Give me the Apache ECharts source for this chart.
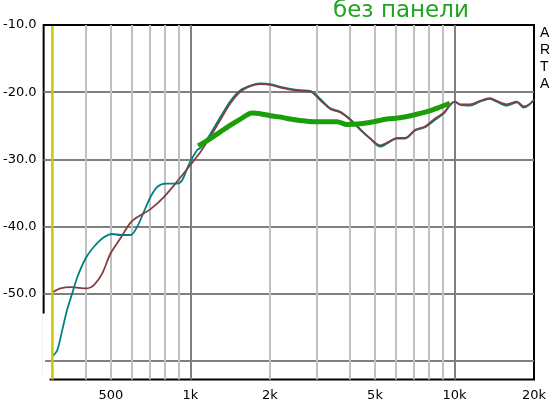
<!DOCTYPE html>
<html><head><meta charset="utf-8">
<script src="https://cdn.jsdelivr.net/npm/echarts@6/dist/echarts.min.js"></script>
<style>html,body{margin:0;padding:0;background:#fff}#c{width:555px;height:410px}</style>
</head><body><div id="c"></div>
<script>
// Axis ticks / labels
const xLabelValues = [500, 1000, 2000, 5000, 10000, 20000];
const xMinorGrid = [400, 500, 600, 700, 800, 900, 2000, 3000, 4000, 5000, 6000, 7000, 8000, 9000];
const xMajorGrid = [1000, 10000];
const yGridValues = [-60, -50, -40, -30, -20];
const yLabelValues = [-50, -40, -30, -20, -10];
const cursorFreq = 300;

// Teal curve
const freqTeal = [300,313,327,341,357,373,401,431,470,506,544,593,629,666,706,748,804,890,930,985,1060,1091,1190,1298,1417,1546,1686,1840,2007,2190,2389,2607,2844,3104,3385,3694,4028,4395,4796,5232,5624,6050,6502,7095,7742,8447,9090,9600,10000,10530,11450,12490,13630,14450,15780,17220,18250,19000,20000];
const dbTeal   = [-59.3,-58.4,-55.4,-52.4,-49.9,-47.5,-44.7,-43.0,-41.6,-41.1,-41.25,-41.25,-40.0,-37.8,-35.6,-34.1,-33.6,-33.6,-33.1,-30.8,-28.6,-28.3,-26.2,-23.7,-21.3,-19.7,-19.0,-18.7,-18.8,-19.2,-19.5,-19.7,-19.8,-21.0,-22.4,-22.9,-24.0,-25.5,-26.9,-28.1,-27.5,-26.9,-26.9,-25.7,-25.2,-24.1,-23.2,-22.0,-21.4,-21.9,-22.0,-21.4,-21.0,-21.4,-22.0,-21.5,-22.3,-22.0,-21.1];

// Brown curve
const freqBrown = [300,322,352,406,431,463,498,544,593,647,706,793,890,1000,1091,1190,1298,1417,1546,1686,1840,2007,2190,2389,2607,2844,3104,3385,3694,4028,4395,4796,5232,5624,6050,6502,7095,7742,8447,9090,9600,10000,10530,11450,12490,13630,14450,15780,17220,18250,19000,19900];
const dbBrown   = [-49.8,-49.2,-49.0,-49.2,-48.7,-47.0,-44.0,-41.7,-39.4,-38.3,-37.4,-35.6,-33.3,-30.8,-28.9,-26.6,-24.1,-21.65,-19.9,-19.1,-18.8,-18.9,-19.3,-19.6,-19.8,-19.9,-21.2,-22.5,-23.0,-24.1,-25.6,-26.9,-27.9,-27.4,-26.8,-26.8,-25.6,-25.1,-23.9,-23.1,-21.9,-21.4,-21.8,-21.8,-21.3,-20.9,-21.3,-21.8,-21.4,-22.1,-21.9,-21.3];

// Thick green curve (без панели)
const freqGreen = [1070,1190,1298,1417,1546,1712,1840,2007,2190,2389,2607,2930,3590,3920,4395,4940,5545,6230,7000,7860,8830,9600];
const dbGreen   = [-28.0,-26.9,-25.9,-24.9,-24.0,-23.1,-23.2,-23.5,-23.7,-24.0,-24.2,-24.4,-24.4,-24.8,-24.7,-24.4,-24.0,-23.8,-23.4,-22.9,-22.2,-21.65];

const X_MIN = 278, X_MAX = 20000, Y_MIN = -62.75, Y_MAX = -10;
const LEFT_FRAME_END = -52.86, BOTTOM_FRAME_START = 293;
const pairs = (f, d) => f.map((v, i) => [v, d[i]]);

const chart = echarts.init(document.getElementById('c'));
const baseX = {type: 'log', logBase: 10, min: X_MIN, max: X_MAX, gridIndex: 0};
chart.setOption({
  animation: false,
  title: [
    {text: 'без панели', left: 333, top: 0, padding: 0,
     textStyle: {color: '#22a322', fontSize: 23, fontWeight: 'normal', fontFamily: 'DejaVu Sans'}},
    {text: 'A\nR\nT\nA', left: 540, top: 25, padding: 0,
     textStyle: {color: '#000', fontSize: 14, lineHeight: 17, fontWeight: 'normal', fontFamily: 'Liberation Sans'}}
  ],
  grid: {left: 43, right: 21, top: 25, bottom: 30.5, show: true, borderColor: '#000', borderWidth: 2, backgroundColor: 'transparent'},
  xAxis: [
    Object.assign({}, baseX, {position: 'bottom',
      axisLine: {show: false}, splitLine: {show: false},
      axisTick: {show: false, customValues: xLabelValues},
      axisLabel: {customValues: xLabelValues, margin: 10, color: '#000', fontSize: 13, fontFamily: 'DejaVu Sans',
        formatter: v => v >= 1000 ? (v / 1000) + 'k' : String(v)}}),
    Object.assign({}, baseX, {position: 'bottom',
      axisLine: {show: false},
      axisTick: {show: false, customValues: xMinorGrid},
      axisLabel: {show: false, customValues: xMinorGrid},
      splitLine: {show: true, lineStyle: {color: '#c0c0c0', width: 2}}}),
    Object.assign({}, baseX, {position: 'bottom',
      axisLine: {show: false},
      axisTick: {show: false, customValues: xMajorGrid},
      axisLabel: {show: false, customValues: xMajorGrid},
      splitLine: {show: true, lineStyle: {color: '#808080', width: 2}}})
  ],
  yAxis: [
    {type: 'value', min: Y_MIN, max: Y_MAX, position: 'left',
     axisLine: {show: false},
     axisTick: {show: false, customValues: yGridValues},
     axisLabel: {customValues: yLabelValues, margin: 7, color: '#000', fontSize: 13, fontFamily: 'DejaVu Sans',
       formatter: v => v.toFixed(1)},
     splitLine: {show: true, lineStyle: {color: '#808080', width: 2}}}
  ],
  series: [
    {type: 'line', name: 'teal', data: pairs(freqTeal, dbTeal), showSymbol: false, smooth: 0.3,
     lineStyle: {color: '#008080', width: 1.8}, z: 3},
    {type: 'line', name: 'brown', data: pairs(freqBrown, dbBrown), showSymbol: false, smooth: 0.3,
     lineStyle: {color: '#804040', width: 1.8}, z: 4},
    {type: 'line', name: 'green', data: pairs(freqGreen, dbGreen), showSymbol: false, smooth: 0.3,
     lineStyle: {color: '#1a9e0a', width: 5}, z: 5}
  ]
});

// Cursor and frame gaps, positioned via the chart's own axis scales
const px = (f, d) => chart.convertToPixel({xAxisIndex: 0, yAxisIndex: 0}, [f, d]);
const line = (a, b, color, width, z, extend) => {
  const p = px(a[0], a[1]), q = px(b[0], b[1]);
  const e = extend || [0, 0, 0, 0];
  return {type: 'line', z: z, silent: true,
    shape: {x1: p[0] + e[0], y1: p[1] + e[1], x2: q[0] + e[2], y2: q[1] + e[3]},
    style: {stroke: color, lineWidth: width}};
};
chart.setOption({
  graphic: [
    // gaps in the frame (left side below -52.9 dB, bottom left of 293 Hz)
    line([X_MIN, LEFT_FRAME_END], [X_MIN, Y_MIN], '#fff', 3, 20, [0, 0.5, 0, 2]),
    line([X_MIN, Y_MIN], [BOTTOM_FRAME_START, Y_MIN], '#fff', 3, 20, [-2, 0, 0, 0]),
    line([cursorFreq, Y_MAX], [cursorFreq, Y_MIN], '#c8c800', 2.5, 21, [0, 1, 0, 0])
  ]
});
</script></body></html>
